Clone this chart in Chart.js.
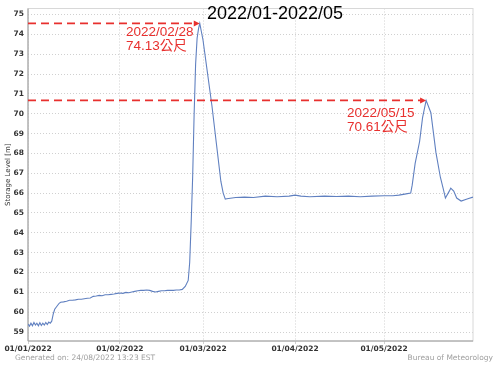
<!DOCTYPE html>
<html>
<head>
<meta charset="utf-8">
<script src="https://cdn.jsdelivr.net/npm/chart.js@4.4.0/dist/chart.umd.min.js"></script>
<style>
    body { margin: 0; background: #fff; }
    #wrap { position: relative; width: 500px; height: 372px; }
    #title { position: absolute; left: 207px; top: 3px; font: 18px "Liberation Sans", sans-serif; color: #000; }
    .foot { position: absolute; top: 353px; font: 7.5px "DejaVu Sans", sans-serif; color: #a0a0a0; }
</style>
</head>
<body>
<div id="wrap">
    <canvas id="chart" width="500" height="372"></canvas>
    <div id="title">2022/01-2022/05</div>
    <div class="foot" style="left:15px">Generated on: 24/08/2022 13:23 EST</div>
    <div class="foot" style="right:7px">Bureau of Meteorology</div>
</div>
<script>
// day of year (0 = 01/01/2022) and storage level (m)
const days = [
    0, 0.5, 1, 1.5, 2, 2.5, 3, 3.5, 4, 4.5, 5, 5.5, 6, 6.5, 7, 7.5,
    8, 8.5, 9, 9.5, 10, 10.5, 11, 12, 13, 14, 15, 16, 17, 18, 19, 20,
    21, 22, 23, 24, 25, 26, 27, 28, 29, 30, 31, 32, 33, 34, 35, 36,
    37, 38, 39, 40, 41, 42, 43, 44, 45, 46, 47, 48, 49, 50, 51, 52,
    53, 54, 54.5, 55, 55.5, 56, 56.5, 57, 57.5, 57.9, 59, 60.5, 62, 63.5,
    65, 65.8, 66.5, 67, 70, 73, 76, 80, 84, 88, 90, 92, 95, 100,
    104, 108, 112, 116, 120, 123, 125, 127, 129, 129.5, 130.5, 132, 133, 134.2,
    135.8, 137.5, 139, 140, 140.7, 142, 142.5, 143.5, 144.5, 146, 148, 150
];
const levels = [
    59.40, 59.30, 59.45, 59.32, 59.48, 59.35, 59.45, 59.32, 59.47, 59.33, 59.45, 59.35, 59.48, 59.38, 59.50, 59.45,
    59.55, 59.90, 60.15, 60.25, 60.35, 60.45, 60.50, 60.52, 60.55, 60.60, 60.60, 60.62, 60.65, 60.65, 60.68, 60.70,
    60.72, 60.80, 60.82, 60.85, 60.83, 60.88, 60.88, 60.90, 60.92, 60.95, 60.97, 60.95, 61.00, 60.98, 61.02, 61.05,
    61.08, 61.10, 61.10, 61.12, 61.10, 61.05, 61.02, 61.05, 61.08, 61.08, 61.10, 61.10, 61.10, 61.12, 61.12, 61.15,
    61.30, 61.60, 62.50, 64.50, 66.80, 70.00, 72.50, 73.80, 74.30, 74.55, 73.70, 72.05, 70.40, 68.50,
    66.60, 66.00, 65.70, 65.72, 65.78, 65.80, 65.78, 65.85, 65.82, 65.85, 65.90, 65.85, 65.82, 65.85,
    65.83, 65.85, 65.82, 65.85, 65.87, 65.87, 65.90, 65.95, 66.00, 66.40, 67.50, 68.60, 69.80, 70.67,
    70.05, 68.05, 66.80, 66.20, 65.75, 66.10, 66.25, 66.10, 65.75, 65.60, 65.70, 65.80
];

const tickDays = [0, 31, 59, 90, 120];
const tickLabels = ["01/01/2022", "01/02/2022", "01/03/2022", "01/04/2022", "01/05/2022"];
const yTicks = [59, 60, 61, 62, 63, 64, 65, 66, 67, 68, 69, 70, 71, 72, 73, 74, 75];

// peaks marked with red dashed arrows: peak day, date text, level text, label x, label baseline
const peaks = [
    { day: 57.9, date: "2022/02/28", level: "74.13公尺", lx: 126, ly: 36 },
    { day: 134.2, date: "2022/05/15", level: "70.61公尺", lx: 347, ly: 117 }
];

const peakMarks = {
    id: "peakMarks",
    afterDatasetsDraw(chart) {
        const ctx = chart.ctx;
        const xs = chart.scales.x, ys = chart.scales.y;
        ctx.save();
        ctx.strokeStyle = "#e8302e";
        ctx.fillStyle = "#e8302e";
        ctx.lineWidth = 1.8;
        peaks.forEach(p => {
            const i = days.indexOf(p.day);
            const px = xs.getPixelForValue(days[i]);
            const py = ys.getPixelForValue(levels[i]);
            ctx.setLineDash([8, 5]);
            ctx.beginPath();
            ctx.moveTo(xs.left, py);
            ctx.lineTo(px - 4, py);
            ctx.stroke();
            ctx.setLineDash([]);
            ctx.beginPath();
            ctx.moveTo(px, py);
            ctx.lineTo(px - 6, py - 3);
            ctx.lineTo(px - 6, py + 3);
            ctx.closePath();
            ctx.fill();
            ctx.font = '13.5px "Liberation Sans", "Noto Sans CJK TC", sans-serif';
            ctx.textBaseline = "alphabetic";
            ctx.fillText(p.date, p.lx, p.ly);
            ctx.fillText(p.level, p.lx, p.ly + 13.5);
        });
        ctx.restore();
    }
};

const frame = {
    id: "frame",
    beforeDatasetsDraw(chart) {
        const { ctx, chartArea: a } = chart;
        ctx.save();
        ctx.strokeStyle = "#d8d8d8";
        ctx.lineWidth = 1;
        ctx.strokeRect(a.left, a.top, a.right - a.left, a.bottom - a.top);
        ctx.strokeStyle = "#9a9a9a";
        ctx.beginPath();
        ctx.moveTo(a.left, a.top);
        ctx.lineTo(a.left, a.bottom);
        ctx.lineTo(a.right, a.bottom);
        ctx.stroke();
        ctx.restore();
    }
};

new Chart(document.getElementById("chart").getContext("2d"), {
    type: "line",
    data: {
        datasets: [{
            data: days.map((d, i) => ({ x: d, y: levels[i] })),
            borderColor: "#6080c0",
            borderWidth: 1.1,
            pointRadius: 0,
            tension: 0
        }]
    },
    options: {
        responsive: false,
        animation: false,
        layout: { padding: { top: 5, right: 27, left: 0, bottom: 0 } },
        plugins: {
            legend: { display: false },
            tooltip: { enabled: false }
        },
        scales: {
            x: {
                type: "linear",
                min: 0,
                max: 150,
                afterBuildTicks: s => { s.ticks = tickDays.map(v => ({ value: v })); },
                afterFit: s => { s.height = 31; },
                border: { display: false, dash: [1, 2] },
                grid: { color: "#d0d0d0", drawTicks: true, tickLength: 3 },
                ticks: {
                    callback: (v, i) => tickLabels[i],
                    maxRotation: 0,
                    autoSkip: false,
                    padding: 1,
                    color: "#333",
                    font: { family: "DejaVu Sans", size: 7.5, weight: "bold" }
                }
            },
            y: {
                min: 58.55,
                max: 75.3,
                afterBuildTicks: s => { s.ticks = yTicks.map(v => ({ value: v })); },
                afterFit: s => { s.width = 28; },
                border: { display: false, dash: [1, 2] },
                grid: { color: "#d0d0d0", drawTicks: false },
                title: {
                    display: true,
                    text: "Storage Level [m]",
                    color: "#333",
                    padding: { top: 4, bottom: 0 },
                    font: { family: "DejaVu Sans", size: 7 }
                },
                ticks: {
                    padding: 4,
                    color: "#333",
                    font: { family: "DejaVu Sans", size: 7.5, weight: "bold" }
                }
            }
        }
    },
    plugins: [frame, peakMarks]
});
</script>
</body>
</html>
